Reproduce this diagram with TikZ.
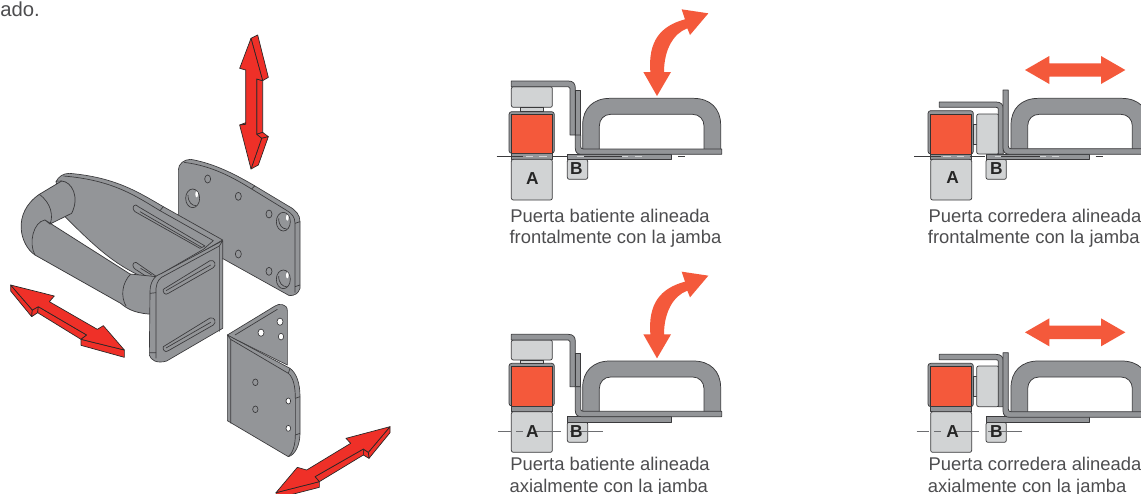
\documentclass[tikz,border=0pt]{standalone}
\usepackage{fontspec}
\setmainfont{Liberation Sans}
\definecolor{steel}{HTML}{939598}
\definecolor{inkline}{HTML}{3A3A3C}
\definecolor{lightsteel}{HTML}{D1D3D4}
\definecolor{redarrow}{HTML}{EF3028}
\definecolor{orangearrow}{HTML}{F4593B}
\definecolor{txtgray}{HTML}{4D4D4F}
\definecolor{axisgray}{HTML}{6D6E71}
\tikzset{
  part/.style={fill=steel,draw=inkline,line width=0.55pt,line join=round},
  edgeline/.style={draw=inkline,line width=0.5pt,line join=round},
  lightpart/.style={fill=lightsteel,draw=inkline,line width=0.55pt,rounded corners=1.5pt},
  plate/.style={fill=steel,draw=inkline,line width=0.5pt,line join=round},
  redface/.style={fill=redarrow,draw=black!85,line width=0.5pt,line join=round},
  caption/.style={anchor=base west,inner sep=0pt,font=\fontsize{13.8pt}{16pt}\selectfont,text=txtgray},
  fragment/.style={anchor=base west,inner sep=0pt,font=\fontsize{15.2pt}{17pt}\selectfont,text=txtgray},
  letter/.style={inner sep=0pt,font=\fontsize{13pt}{14pt}\selectfont\bfseries,text=black!85},
  holeg/.style={edgeline,fill=steel},
  holew/.style={edgeline,fill=white},
  slot/.style={edgeline,fill=steel,line width=0.5pt},
}
% handle, panel-1 coordinates: #1 dx, #2 dy
\newcommand\handlegrip[2]{%
  \begin{scope}[shift={(#1,#2)}]
  \path[part,even odd rule] (278,450) -- (278,375) .. controls (278,325) and (310,295) .. (360,295) -- (610,295) .. controls (660,295) and (692,325) .. (692,375) -- (692,450) -- (642,450) -- (642,378) .. controls (642,358) and (628,343) .. (608,343) -- (362,343) .. controls (342,343) and (328,358) .. (328,378) -- (328,450) -- cycle;
  \end{scope}}
% swing arrow
\newcommand\swingarrow[1]{%
  \fill[orangearrow,shift={(0,#1)}] (501,288) -- (460,216) -- (481,216) .. controls (474,125) and (510,78) .. (585,58) -- (575,28) -- (655,40) -- (600,105) -- (592,85) .. controls (550,100) and (522,150) .. (522,216) -- (543,216) -- cycle;}
\newcommand\slidearrow[1]{%
  \fill[orangearrow] (375,#1) -- (448,#1-42) -- (448,#1-20) -- (603,#1-20) -- (603,#1-42) -- (676,#1) -- (603,#1+42) -- (603,#1+20) -- (448,#1+20) -- (448,#1+42) -- cycle;}
% door: #1 dx, #2 frame top, #3 red top, #4 bottom
\newcommand\doorleaf[4]{%
  \begin{scope}[shift={(#1,0)}]
  \path[part,rounded corners=2pt] (57,#4) -- (57,#2) -- (193,#2) -- (193,#4) -- cycle;
  \fill[orangearrow,draw=black!80,line width=0.4pt] (65,#4) -- (65,#3) -- (186,#3) -- (186,#4) -- cycle;
  \end{scope}}
% A box: #1 dx, #2 strip top, #3 strip bottom, #4 bottom
\newcommand\boxA[4]{%
  \begin{scope}[shift={(#1,0)}]
  \path[plate] (64,#2) rectangle (187,#3);
  \path[lightpart] (64,#3) -- (187,#3) -- (187,#4) -- (64,#4) -- cycle;
  \end{scope}}
\newcommand\boxB[4]{%
  \begin{scope}[shift={(#1,0)}]
  \path[lightpart] (232,#3) -- (293,#3) -- (293,#4) -- (232,#4) -- cycle;
  \path[plate] (232,#2) rectangle (543,#3);
  \end{scope}}
\newcommand\floorline[2]{% #1 dx #2 y
  \begin{scope}[shift={(#1,#2)}]
  \draw[inkline,line width=0.5pt] (20,0) -- (64,0) (187,0) -- (232,0) (565,0) -- (586,0);
  \draw[lightsteel,line width=0.6pt] (108,0) -- (130,0) (148,0) -- (170,0) (262,0) -- (282,0) (397,0) -- (415,0) (435,0) -- (455,0);
  \draw[inkline,line width=0.4pt] (64,0) -- (100,0) (282,0) -- (397,0);
  \end{scope}}
\newcommand\axisline[2]{% #1 dx #2 y
  \begin{scope}[shift={(#1,#2)}]
  \draw[axisgray,line width=0.9pt] (25,0) -- (62,0) (78,0) -- (98,0) (138,0) -- (212,0) (240,0) -- (340,0);
  \end{scope}}
% swing hardware: #1 bar top, #2 bar plate end, #3 small plate top, #4 L base top, #5 box bottom, #6 conn bottom
\newcommand\swinghinge[6]{%
  \path[lightpart] (64,#1+17) -- (187,#1+17) -- (187,#5) -- (64,#5) -- cycle;
  \path[lightpart,rounded corners=0pt] (92,#5) rectangle (160,#6);
  \path[part] (64,#1+17) -- (64,#1) -- (235,#1) .. controls (250,#1) and (256,#1+8) .. (256,#1+22) -- (256,#2) -- (240,#2) -- (240,#1+22) .. controls (240,#1+19) and (238,#1+17) .. (235,#1+17) -- cycle;
  \path[part] (256,#3) -- (272,#3) -- (272,#2) -- (256,#2) -- cycle;
  \path[part] (256,#2) -- (256,#4-2) .. controls (256,#4+10) and (262,#4+16) .. (274,#4+16) -- (695,#4+16) -- (695,#4) -- (280,#4) .. controls (274,#4) and (272,#4-3) .. (272,#4-8) -- (272,#2) -- cycle;}
% slide hardware: #1 bar top, #2 plate top, #3 L base top, #4 box top, #5 box bottom
\newcommand\slidehinge[5]{%
  \path[lightpart,rounded corners=0pt] (220,#4+30) rectangle (232,#5-30);
  \path[lightpart] (230,#4) -- (297,#4) -- (297,#5) -- (230,#5) -- cycle;
  \path[part] (118,#1+16) -- (118,#1) -- (288,#1) .. controls (303,#1) and (310,#1+8) .. (310,#1+20) -- (310,#5) -- (295,#5) -- (295,#1+22) .. controls (295,#1+18) and (293,#1+16) .. (288,#1+16) -- cycle;
  \path[part] (309,#2) -- (325,#2) -- (325,#3-8) .. controls (325,#3-3) and (327,#3) .. (332,#3) -- (760,#3) -- (760,#3+17) -- (330,#3+17) .. controls (316,#3+17) and (309,#3+10) .. (309,#3-2) -- cycle;}
\begin{document}
\begin{tikzpicture}[x=0.25pt,y=-0.25pt]
\useasboundingbox (0,0) rectangle (3423,1479);
\fill[white] (0,0) rectangle (3423,1479);
\node[fragment] (frag) at (0,50) {ado.};
% ---- vertical red arrow
\path[redface] (753,115) -- (773,105) -- (805,232) -- (788,242) -- cycle;
\path[redface] (770,237) -- (788,242) -- (788,397) -- (770,403) -- cycle;
\path[redface] (770,403) -- (788,397) -- (805,410) -- (785,415) -- cycle;
\path[redface] (753,507) -- (775,495) -- (805,410) -- (785,415) -- cycle;
\path[redface] (719,375) -- (737,368) -- (737,373) -- cycle;
\path[redface] (753,115) -- (719,205) -- (737,210) -- (737,373) -- (719,375) -- (753,507) -- (785,415) -- (770,403) -- (770,237) -- (788,242) -- cycle;
% ---- left red arrow
\path[redface] (32,855) -- (32,873) -- (95,950) -- (97,930) -- cycle;
\path[redface] (97,930) -- (95,950) -- (113,938) -- (115,920) -- cycle;
\path[redface] (115,920) -- (113,938) -- (243,1018) -- (260,1005) -- cycle;
\path[redface] (243,1018) -- (243,1036) -- (373,1072) -- (373,1050) -- cycle;
\path[redface] (32,855) -- (163,888) -- (148,905) -- (292,988) -- (310,977) -- (373,1050) -- (243,1018) -- (260,1005) -- (115,920) -- (97,930) -- cycle;
% ---- bottom right red arrow
\path[redface] (1170,1280) -- (1170,1298) -- (1107,1375) -- (1105,1357) -- cycle;
\path[redface] (1090,1347) -- (1105,1357) -- (1107,1375) -- (1090,1365) -- cycle;
\path[redface] (1090,1347) -- (1090,1365) -- (958,1445) -- (945,1430) -- cycle;
\path[redface] (828,1478) -- (958,1445) -- (958,1462) -- (830,1495) -- cycle;
\path[redface] (1170,1280) -- (1038,1315) -- (1052,1330) -- (920,1410) -- (892,1402) -- (828,1478) -- (958,1445) -- (945,1430) -- (1090,1347) -- (1105,1357) -- cycle;
% ---- back plate
\path[plate] (535,510) .. controls (535,492) and (552,478) .. (572,478) .. controls (640,490) and (700,520) .. (760,555) -- (865,618) .. controls (888,630) and (900,645) .. (900,665) -- (900,865) .. controls (895,880) and (885,887) .. (868,887) -- (640,760) -- (535,655) -- cycle;
\path[edgeline] (552,487) -- (572,490) .. controls (640,502) and (695,530) .. (755,567) -- (858,630) .. controls (875,640) and (885,650) .. (885,670) -- (885,878);
\path[edgeline] (885,670) -- (900,665) (885,860) -- (900,855) (755,567) -- (765,557);
\foreach \hx/\hy in {623/537,715/589,807/642,715/762,807/814}
  \path[holeg] (\hx,\hy) ellipse [x radius=9,y radius=12];
\foreach \hx/\hy in {578/595,850/665,850/838}{
  \path[edgeline,fill=steel] (\hx,\hy) ellipse [x radius=21,y radius=28];
  \fill[white] (\hx+12,\hy-12) ellipse [x radius=4,y radius=9];
  \path[edgeline,fill=none] (\hx-14,\hy-10) .. controls (\hx-14,\hy+12) and (\hx-2,\hy+22) .. (\hx+10,\hy+22);
}
% ---- U bracket flange
\path[plate] (168,545) .. controls (175,530) and (190,520) .. (208,520) .. controls (350,532) and (420,580) .. (490,620) -- (668,720) -- (470,835) -- (445,838) .. controls (350,800) and (290,745) .. (195,650) -- cycle;
\path[edgeline] (190,528) .. controls (340,540) and (410,590) .. (480,632) -- (640,722) -- (610,748) -- (472,828);
\path[edgeline] (480,632) -- (490,620);
\path[slot] (408,615) .. controls (398,615) and (396,628) .. (405,635) -- (600,745) -- (615,738) -- (415,620) .. controls (412,617) and (410,615) .. (408,615) -- cycle;
\path[edgeline] (420,635) -- (605,742);
\path[slot] (408,787) .. controls (396,787) and (396,800) .. (405,807) -- (440,830) -- (470,830) -- cycle;
\path[edgeline] (422,805) -- (455,825);
% ---- tube
\path[part] (118,583) -- (185,543) .. controls (215,545) and (240,590) .. (215,640) -- (150,672) -- (135,660) -- (390,822) -- (470,830) -- (470,942) -- (445,942) .. controls (400,938) and (380,925) .. (362,910) -- (105,765) .. controls (60,735) and (35,640) .. (118,583) -- cycle;
\path[edgeline] (118,583) .. controls (155,610) and (160,650) .. (150,672);
\path[edgeline] (135,660) .. controls (100,665) and (85,730) .. (105,765);
\path[edgeline] (392,822) .. controls (365,850) and (362,890) .. (378,918);
\path[edgeline] (185,543) .. controls (170,545) and (170,540) .. (168,545);
% ---- U bracket front
\path[plate] (450,875) .. controls (450,845) and (465,825) .. (485,820) -- (668,722) -- (668,985) -- (500,1083) .. controls (470,1092) and (452,1080) .. (448,1065) -- cycle;
\path[edgeline] (468,1075) -- (468,865) .. controls (470,845) and (480,832) .. (492,828) -- (658,738) -- (658,995);
\path[edgeline] (450,880) -- (468,878) (448,1058) -- (468,1058) (658,738) -- (668,722);
\foreach \sy in {0,172}{
\path[slot] (490,868+\sy) .. controls (487,876+\sy) and (495,888+\sy) .. (505,880+\sy) -- (640,803+\sy) .. controls (650,795+\sy) and (645,778+\sy) .. (630,782+\sy) -- cycle;
\path[edgeline] (498,872+\sy) -- (632,795+\sy);
}
% ---- lower bracket, back flange
\path[plate] (682,1005) -- (825,918) .. controls (835,910) and (862,910) .. (862,932) -- (862,1095) -- (690,1010) -- cycle;
\path[edgeline] (705,1005) -- (832,928);
\path[holew] (840,965) ellipse [x radius=9,y radius=11];
\path[holew] (783,998) ellipse [x radius=9,y radius=11];
\path[holew] (843,1010) ellipse [x radius=8,y radius=10];
% ---- lower bracket, front
\path[plate] (682,1005) -- (870,1105) .. controls (890,1120) and (900,1150) .. (900,1190) -- (900,1300) .. controls (900,1335) and (885,1365) .. (865,1370) -- (682,1262) -- cycle;
\path[edgeline] (692,1270) -- (692,1018) -- (865,1120) .. controls (880,1132) and (886,1160) .. (886,1195) -- (886,1305) .. controls (886,1335) and (878,1360) .. (865,1370);
\path[edgeline] (682,1005) -- (692,1018) (870,1105) -- (865,1120) (886,1195) -- (900,1190) (886,1305) -- (900,1300);
\path[holeg] (766,1147) ellipse [x radius=8,y radius=10];
\path[holeg] (766,1228) ellipse [x radius=8,y radius=10];
\path[holew] (865,1203) ellipse [x radius=7,y radius=9];
\path[holew] (865,1285) ellipse [x radius=7,y radius=9];
% ===== panel 1
\begin{scope}[shift={(1470,0)}]
  \swingarrow{0}
  \handlegrip{0}{0}
  \doorleaf{0}{335}{343}{460}
  \boxA{0}{460}{478}{600}
  \boxB{0}{462}{478}{538}
  \swinghinge{243}{405}{270}{447}{322}{335}
  \floorline{0}{470}
  \node[letter] (a1) at (127,535) {A};
  \node[letter] (b1) at (259,505) {B};
\end{scope}
\node[caption] (c1a) at (1530,666) {Puerta batiente alineada};
\node[caption] (c1b) at (1528,730) {frontalmente con la jamba};
% ===== panel 3
\begin{scope}[shift={(1470,750)}]
  \swingarrow{37}
  \handlegrip{0}{38}
  \doorleaf{0}{340}{350}{468}
  \boxA{0}{468}{485}{607}
  \boxB{0}{498}{516}{577}
  \swinghinge{253}{410}{310}{484}{330}{340}
  \axisline{0}{545}
  \node[letter] (a3) at (127,545) {A};
  \node[letter] (b3) at (259,545) {B};
\end{scope}
\node[caption] (c3a) at (1530,1410) {Puerta batiente alineada};
\node[caption] (c3b) at (1528,1478) {axialmente con la jamba};
% ===== panel 4
\begin{scope}[shift={(2700,120)}]
  \slidearrow{90}
  \handlegrip{55}{-120}
  \doorleaf{27}{212}{222}{342}
  \boxA{28}{342}{358}{480}
  \boxB{26}{343}{358}{418}
  \slidehinge{186}{150}{326}{222}{342}
  \floorline{22}{350}
  \node[letter] (a4) at (158,413) {A};
  \node[letter] (b4) at (289,386) {B};
\end{scope}
\node[caption] (c4a) at (2785,666) {Puerta corredera alineada};
\node[caption] (c4b) at (2783,730) {frontalmente con la jamba};
% ===== panel 5
\begin{scope}[shift={(2700,900)}]
  \slidearrow{97}
  \handlegrip{55}{-112}
  \doorleaf{27}{190}{198}{320}
  \boxA{28}{320}{335}{457}
  \boxB{26}{350}{367}{427}
  \slidehinge{163}{158}{335}{198}{320}
  \axisline{25}{395}
  \node[letter] (a5) at (158,395) {A};
  \node[letter] (b5) at (289,395) {B};
\end{scope}
\node[caption] (c5a) at (2785,1410) {Puerta corredera alineada};
\node[caption] (c5b) at (2783,1476) {axialmente con la jamba};
\end{tikzpicture}
\end{document}
